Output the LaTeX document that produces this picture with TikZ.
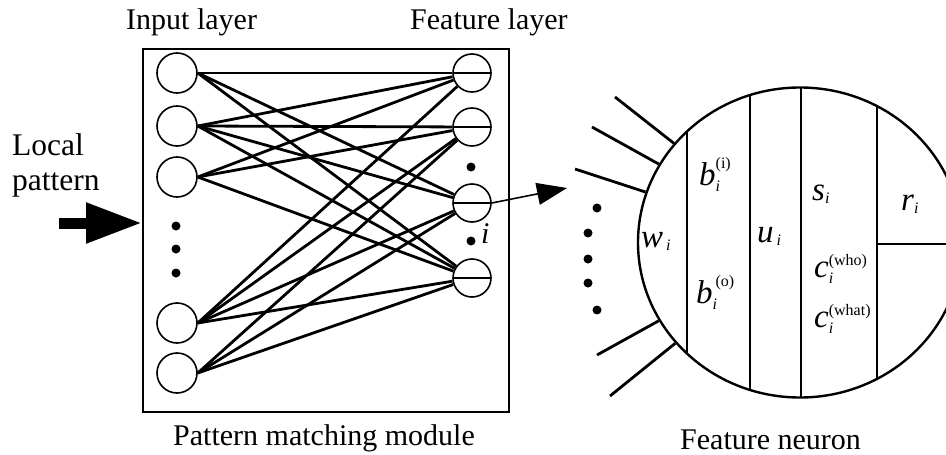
\documentclass[tikz,border=0pt]{standalone}
\usepackage{amsmath}
\usepackage{fontspec}
\setmainfont{Liberation Serif}
\DeclareMathSizes{33}{33}{16}{13}
\usetikzlibrary{arrows.meta,shapes.geometric}

\tikzset{
  innode/.style={draw, circle, minimum size=40pt, inner sep=0pt, line width=1.6pt},
  featnode/.style={draw, circle, minimum size=38pt, inner sep=0pt, line width=1.6pt,
    path picture={\draw[line width=1.6pt] (path picture bounding box.west) -- (path picture bounding box.east);}},
  dotnode/.style={circle, fill, inner sep=0pt, minimum size=9pt},
  lbl/.style={inner sep=0pt, anchor=base west},
  mathlbl/.style={lbl, font=\fontsize{33}{36}\selectfont},
}

\begin{document}
\begin{tikzpicture}[x=1pt, y=-1pt, font=\fontsize{30}{36}\selectfont]
      \useasboundingbox (0,0) rectangle (946,455);
      \clip (0,0) rectangle (946,455);
      \node[draw, line width=1.8pt, minimum width=366pt, minimum height=363pt, inner sep=0pt] (module) at (326,230.5) {};
      \draw
        (177,73) node[innode] (in1){}
        (177,126) node[innode] (in2){}
        (177,177) node[innode] (in3){}
        (177,323) node[innode] (in4){}
        (177,373) node[innode] (in5){}
        (472,73) node[featnode] (f1){}
        (472,127) node[featnode] (f2){}
        (472,203) node[featnode] (f3){}
        (472,278) node[featnode] (f4){};
      \draw
        (176,226) node[dotnode] (id1){}
        (176,249) node[dotnode] (id2){}
        (176,273) node[dotnode] (id3){}
        (471,167) node[dotnode] (fd1){}
        (471,241) node[dotnode] (fd2){};
      \node[lbl] (ilbl) at (481,243) {\textit{i}};
      \begin{scope}[line width=2.8pt]
        \draw (in1.east) to (f1);
        \draw (in1.east) to (f3);
        \draw (in1.east) to (f4);
        \draw (in2.east) to (f1);
        \draw (in2.east) to (f2);
        \draw (in2.east) to (f3);
        \draw (in2.east) to (f4);
        \draw (in3.east) to (f1);
        \draw (in3.east) to (f2);
        \draw (in3.east) to (f4);
        \draw (in4.east) to (f1);
        \draw (in4.east) to (f2);
        \draw (in4.east) to (f3);
        \draw (in4.east) to (f4);
        \draw (in5.east) to (f2);
        \draw (in5.east) to (f3);
        \draw (in5.east) to (f4);
      \end{scope}
      % input side
      \coordinate (lpstart) at (59,223);
      \draw[line width=11pt, -{Triangle[length=56pt,width=38pt]}] (lpstart) -- ([yshift=7.5pt]module.west);
      \node[lbl, font=\fontsize{31.5}{36}\selectfont] (lp1) at (12,155) {Local};
      \node[lbl, font=\fontsize{31.5}{36}\selectfont] (lp2) at (12,190) {pattern};
      \node[lbl] (inlbl) at (126,30) {Input layer};
      \node[lbl] (ftlbl) at (410,30) {Feature layer};
      \node[lbl] (modlbl) at (173,445) {Pattern matching module};
      % feature neuron
      \coordinate (tip) at (567,188);
      \draw[line width=1.6pt, -{Triangle[length=30pt,width=22pt]}] (f3.east) -- (tip);
      \node[draw, ellipse, minimum width=324pt, minimum height=310pt, inner sep=0pt, line width=2.4pt] (neuron) at (800,242.5) {};
      \begin{scope}[line width=2.2pt]
        \clip (800,242.5) ellipse [x radius=162, y radius=155];
        \draw (687,0) -- (687,455);
        \draw (750,0) -- (750,455);
        \draw (801,0) -- (801,455);
        \draw (877,0) -- (877,455);
        \draw (877,244) -- (970,244);
      \end{scope}
      \coordinate (s1) at (615,97);
      \coordinate (s2) at (592,127);
      \coordinate (s3) at (575,169);
      \coordinate (s4) at (597,355);
      \coordinate (s5) at (610,396);
      \begin{scope}[line width=2.8pt]
        \draw (s1) -- (neuron);
        \draw (s2) -- (neuron);
        \draw (s3) -- (neuron);
        \draw (s4) -- (neuron);
        \draw (s5) -- (neuron);
      \end{scope}
      \draw
        (597,208) node[dotnode] (nd1){}
        (588,233) node[dotnode] (nd2){}
        (588,259) node[dotnode] (nd3){}
        (588,283) node[dotnode] (nd4){}
        (597,310) node[dotnode] (nd5){};
      \node[mathlbl] (wlbl) at (641,247) {$\textit{w}_{\,\textit{i}}$};
      \node[mathlbl] (bilbl) at (699,185) {$\textit{b}^{\textrm{(i)}}_{\textit{i}}$};
      \node[mathlbl] (bolbl) at (696,303) {$\textit{b}^{\,\textrm{(o)}}_{\textit{i}}$};
      \node[mathlbl] (ulbl) at (757,242) {$\textit{u}_{\,\textit{i}}$};
      \node[mathlbl] (slbl) at (812,200) {$\textit{s}_{\textit{i}}$};
      \node[mathlbl] (cwholbl) at (814,277) {$\textit{c}^{\textrm{(who)}}_{\textit{i}}$};
      \node[mathlbl] (cwhatlbl) at (814,327) {$\textit{c}^{\textrm{(what)}}_{\textit{i}}$};
      \node[mathlbl] (rlbl) at (901,210) {$\textit{r}_{\textit{i}}$};
      \node[lbl] (neulbl) at (680,449) {Feature neuron};
    \end{tikzpicture}
\end{document}
